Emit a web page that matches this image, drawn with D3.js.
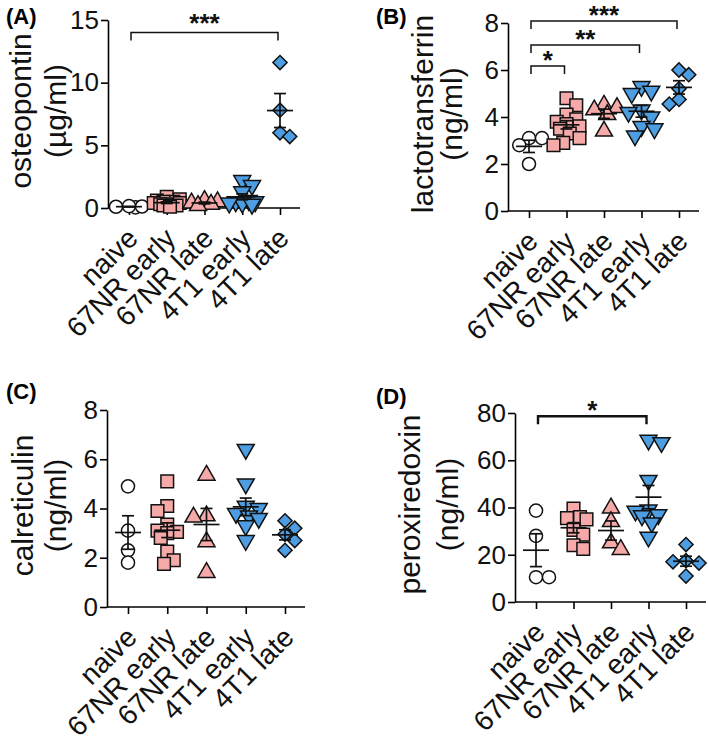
<!DOCTYPE html>
<html>
<head>
<meta charset="utf-8">
<script src="https://cdn.jsdelivr.net/npm/d3@7"></script>
<style>
  body { margin: 0; background: #fff; }
  svg { display: block; }
</style>
</head>
<body>
<script>
// 分组与各面板数据
const categories = ["naive", "67NR early", "67NR late", "4T1 early", "4T1 late"];

const osteopontin = [
  [0.05, 0.1, 0.12, 0.15],
  [0.9, 0.7, 0.6, 0.5, 0.5, 0.4, 0.4, 0.3, 0.3, 0.2, 0.2, 0.1],
  [0.6, 0.5, 0.4, 0.3, 0.2],
  [2.2, 1.8, 1.3, 0.6, 0.5, 0.5, 0.4, 0.4, 0.3],
  [11.6, 7.8, 6.0, 5.7]
];
const lactotransferrin = [
  [3.1, 3.1, 2.8, 2.0],
  [4.8, 4.5, 4.1, 3.9, 3.8, 3.7, 3.6, 3.5, 3.3, 3.1, 2.9, 2.8],
  [4.5, 4.4, 4.3, 4.1, 3.4],
  [5.3, 5.1, 5.0, 4.3, 4.2, 4.0, 3.6, 3.5, 3.2],
  [6.0, 5.8, 5.2, 4.75, 4.55]
];
const calreticulin = [
  [4.9, 3.1, 2.3, 1.8],
  [5.1, 4.1, 3.9, 3.35, 3.1, 3.05, 3.0, 2.8, 2.25, 1.9, 1.75],
  [5.35, 3.7, 3.65, 2.65, 1.4],
  [6.4, 5.0, 4.1, 4.0, 3.8, 3.7, 3.6, 3.3, 2.7],
  [3.5, 3.2, 2.95, 2.7, 2.3]
];
const peroxiredoxin = [
  [38.7, 28, 10.5, 10.5],
  [39.5, 36, 35.5, 35, 30.5, 28.5, 24, 22.5],
  [39.8, 34, 25, 22.2],
  [68.5, 67.5, 51.5, 39, 38.5, 37, 36.5, 33.5, 27.5],
  [24.3, 17.5, 17, 16.5, 11]
];

// y 轴刻度
const ticksA = [0, 5, 10, 15];
const ticksB = [0, 2, 4, 6, 8];
const ticksC = [0, 2, 4, 6, 8];
const ticksD = [0, 20, 40, 60, 80];

// 显著性标注：组索引、标签、横线所在数值
const sigA = [{ from: 0, to: 4, label: "***", at: 14 }];
const sigB = [
  { from: 0, to: 1, label: "*", at: 6.17 },
  { from: 0, to: 3, label: "**", at: 7.06 },
  { from: 0, to: 4, label: "***", at: 8.09 }
];
const sigC = [];
const sigD = [{ from: 0, to: 3, label: "*", at: 78.6 }];

// 每组样式
const PINK = "#f5a9a9", BLUE = "#4d9de2";
const groupStyle = [
  { type: d3.symbolCircle, fill: "#fff", rot: 0, size: 135 },
  { type: d3.symbolSquare, fill: PINK, rot: 0, size: 160 },
  { type: d3.symbolTriangle, fill: PINK, rot: 0, size: 125 },
  { type: d3.symbolTriangle, fill: BLUE, rot: 180, size: 125 },
  { type: d3.symbolSquare, fill: BLUE, rot: 45, size: 100 }
];

const FONT = "'Liberation Sans', Arial, Helvetica, sans-serif";

const svg = d3.select("body").append("svg")
  .attr("width", 709).attr("height", 744)
  .attr("viewBox", "0 0 709 744");

const panels = [
  { tag: "(A)", tagX: 6, tagY: 24, data: osteopontin, ticks: ticksA, max: 15, sig: sigA,
    left: 108, right: 300, top: 20, bottom: 208, title: ["osteopontin", "(\u00b5g/ml)"], titleX: [31, 66] },
  { tag: "(B)", tagX: 376, tagY: 24, data: lactotransferrin, ticks: ticksB, max: 8, sig: sigB,
    left: 508, right: 699, top: 23, bottom: 211, title: ["lactotransferrin", "(ng/ml)"], titleX: [433, 462] },
  { tag: "(C)", tagX: 6, tagY: 399, data: calreticulin, ticks: ticksC, max: 8, sig: sigC,
    left: 107, right: 305, top: 410, bottom: 607, title: ["calreticulin", "(ng/ml)"], titleX: [33, 66] },
  { tag: "(D)", tagX: 376, tagY: 404, data: peroxiredoxin, ticks: ticksD, max: 80, sig: sigD,
    left: 515, right: 706, top: 413, bottom: 602, title: ["peroxiredoxin", "(ng/ml)"], titleX: [420, 458] }
];

// 简单蜂群布局：在组中心附近左右错开，允许少量重叠
function swarm(vals, y, r, maxOff) {
  const order = d3.range(vals.length).sort((a, b) => vals[b] - vals[a]);
  const placed = [];
  const off = new Array(vals.length).fill(0);
  const step = r * 0.5;
  order.forEach(i => {
    const py = y(vals[i]);
    let best = 0, bestD = -1;
    for (let k = 0; k * step <= maxOff; k++) {
      const cands = k === 0 ? [0] : (placed.length % 2 ? [k * step, -k * step] : [-k * step, k * step]);
      for (const c of cands) {
        let minD = Infinity;
        placed.forEach(p => { minD = Math.min(minD, Math.hypot(p.x - c, p.y - py)); });
        if (minD >= 2 * r * 0.78) { best = c; bestD = Infinity; break; }
        if (minD > bestD) { bestD = minD; best = c; }
      }
      if (bestD === Infinity) break;
    }
    off[i] = best;
    placed.push({ x: best, y: py });
  });
  return off;
}

panels.forEach(p => {
  const g = svg.append("g");
  const y = d3.scaleLinear().domain([0, p.max]).range([p.bottom, p.top]);
  const x = d3.scalePoint().domain(categories).range([p.left + 21, p.right - 20]);

  // 面板标签
  g.append("text").attr("x", p.tagX).attr("y", p.tagY)
    .attr("font-family", FONT).attr("font-weight", "bold").attr("font-size", 22)
    .text(p.tag);

  // y 轴
  const ya = g.append("g").attr("transform", `translate(${p.left},0)`)
    .call(d3.axisLeft(y).tickValues(p.ticks).tickSize(7).tickPadding(2).tickSizeOuter(0));
  ya.select(".domain").attr("stroke", "#000").attr("stroke-width", 1.6);
  ya.selectAll(".tick line").attr("stroke", "#000").attr("stroke-width", 1.6);
  ya.selectAll(".tick text").attr("font-family", FONT).attr("font-size", 26).attr("fill", "#111");

  // x 轴
  const xa = g.append("g").attr("transform", `translate(0,${p.bottom})`)
    .call(d3.axisBottom(x).tickSize(7).tickSizeOuter(0));
  xa.select(".domain").attr("d", `M${p.left},0H${p.right}`)
    .attr("stroke", "#000").attr("stroke-width", 1.6);
  xa.selectAll(".tick line").attr("stroke", "#000").attr("stroke-width", 1.6);
  xa.selectAll(".tick text")
    .attr("font-family", FONT).attr("font-size", 28).attr("fill", "#111")
    .attr("text-anchor", "end").attr("dy", null).attr("y", null)
    .attr("transform", "translate(10,32) rotate(-45)");

  // y 轴标题（两行）
  const cy = (p.top + p.bottom) / 2 - 3;
  p.title.forEach((t, i) => {
    g.append("text")
      .attr("transform", `translate(${p.titleX[i]},${cy}) rotate(-90)`)
      .attr("text-anchor", "middle")
      .attr("font-family", FONT).attr("font-size", 30).attr("fill", "#111")
      .text(t);
  });

  // 散点
  p.data.forEach((vals, gi) => {
    const st = groupStyle[gi];
    const offs = swarm(vals, y, 6.5, 15);
    const cx = x(categories[gi]);
    const sym = d3.symbol().type(st.type).size(st.size);
    g.selectAll(null).data(vals).enter().append("path")
      .attr("d", sym)
      .attr("transform", (v, i) => `translate(${cx + offs[i]},${y(v)}) rotate(${st.rot})`)
      .attr("fill", st.fill).attr("stroke", "#111").attr("stroke-width", 1.5);

    // 均值 ± SEM
    const m = d3.mean(vals);
    const sem = d3.deviation(vals) / Math.sqrt(vals.length);
    const eg = g.append("g").attr("stroke", "#111").attr("stroke-width", 1.7).attr("fill", "none");
    eg.append("line").attr("x1", cx - 13).attr("x2", cx + 13).attr("y1", y(m)).attr("y2", y(m));
    eg.append("line").attr("x1", cx).attr("x2", cx).attr("y1", y(m - sem)).attr("y2", y(m + sem));
    [m - sem, m + sem].forEach(v => {
      eg.append("line").attr("x1", cx - 6).attr("x2", cx + 6).attr("y1", y(v)).attr("y2", y(v));
    });
  });

  // 显著性括号
  p.sig.forEach(s => {
    const x1 = x(categories[s.from]) + 2, x2 = x(categories[s.to]) - 2;
    const by = y(s.at);
    const thick = p.tag === "(D)" ? 2.4 : 1.5;
    g.append("path")
      .attr("d", `M${x1},${by + 8}V${by}H${x2}V${by + 8}`)
      .attr("fill", "none").attr("stroke", "#111").attr("stroke-width", thick);
    g.append("text")
      .attr("x", (x1 + x2) / 2).attr("y", by + (p.tag === "(A)" ? -1 : 3))
      .attr("text-anchor", "middle")
      .attr("font-family", FONT).attr("font-weight", "bold").attr("font-size", 26).attr("fill", "#111")
      .text(s.label);
  });
});
</script>
</body>
</html>
